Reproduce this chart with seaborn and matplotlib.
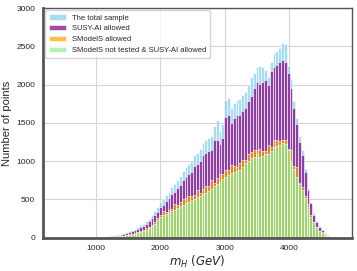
import pandas as pd
import matplotlib
matplotlib.use("Agg")
import matplotlib.pyplot as plt
import seaborn as sns

# bins of the m_H histogram (GeV)
bin_edges = list(range(880, 880 + 44 * 88, 44))

total = [0, 1, 2, 4, 6, 9, 12, 16, 22, 28,
         35, 44, 56, 70, 85, 100, 115, 135, 160, 185,
         215, 250, 300, 345, 400, 460, 500, 560, 600, 660,
         700, 760, 800, 870, 920, 960, 1000, 1080, 1110, 1160,
         1240, 1280, 1300, 1330, 1460, 1540, 1400, 1480, 1800, 1820,
         1700, 1760, 1800, 1810, 1870, 1900, 2000, 2100, 2150, 2230,
         2240, 2230, 2190, 2100, 2300, 2410, 2440, 2480, 2540, 2530,
         2250, 2080, 1780, 1560, 1330, 1150, 900, 650, 470, 320,
         220, 150, 100, 55, 25, 8, 3]

susy_ai = [0, 1, 2, 3, 5, 8, 11, 14, 19, 24,
           30, 38, 48, 60, 73, 85, 98, 114, 135, 157,
           182, 212, 255, 293, 340, 395, 430, 480, 515, 565,
           600, 650, 690, 750, 790, 830, 860, 940, 960, 1000,
           1080, 1110, 1130, 1150, 1270, 1280, 1230, 1300, 1580, 1600,
           1500, 1560, 1600, 1600, 1660, 1700, 1780, 1850, 1950, 2030,
           2010, 2030, 2060, 2000, 2180, 2230, 2260, 2290, 2320, 2300,
           2150, 1950, 1700, 1480, 1250, 1080, 860, 620, 450, 300,
           205, 140, 95, 50, 22, 7, 2]

smodels = [0, 0, 1, 2, 3, 5, 6, 8, 11, 14,
           18, 22, 28, 35, 42, 52, 60, 75, 88, 105,
           125, 145, 172, 210, 255, 300, 350, 335, 365, 375,
           435, 425, 460, 500, 515, 550, 550, 560, 620, 590,
           630, 680, 680, 750, 720, 780, 830, 830, 880, 890,
           950, 940, 920, 970, 1020, 1020, 1100, 1120, 1150, 1140,
           1160, 1130, 1130, 1210, 1190, 1270, 1270, 1260, 1280, 1280,
           1160, 1140, 940, 920, 720, 660, 540, 440, 295, 210,
           135, 90, 75, 33, 12, 3, 1]

not_tested = [0, 0, 1, 1, 2, 3, 4, 6, 8, 11,
              14, 18, 23, 29, 36, 44, 52, 62, 75, 90,
              105, 125, 150, 185, 225, 270, 290, 310, 325, 345,
              365, 385, 410, 430, 455, 470, 490, 510, 530, 550,
              570, 590, 610, 640, 670, 700, 730, 770, 790, 820,
              840, 860, 870, 890, 930, 980, 1000, 1040, 1060, 1100,
              1060, 1070, 1090, 1100, 1130, 1180, 1200, 1210, 1240, 1220,
              1140, 1000, 900, 790, 700, 620, 520, 400, 275, 200,
              135, 85, 55, 28, 10, 3, 1]

centers = [e + 22 for e in bin_edges[:-1]]

sns.set_style("whitegrid")
plt.rcParams["font.family"] = ["Liberation Sans", "DejaVu Sans"]

fig = plt.figure(figsize=(3.57, 2.71), dpi=100)
ax = fig.add_axes([0.12, 0.123, 0.866, 0.847])

layers = [
    (total, "skyblue", "The total sample"),
    (susy_ai, "purple", "SUSY-AI allowed"),
    (smodels, "orange", "SModelS allowed"),
    (not_tested, "lightgreen", "SModelS not tested & SUSY-AI allowed"),
]
for vals, col, lab in layers:
    df = pd.DataFrame({"mH": centers, "n": vals})
    sns.histplot(data=df, x="mH", weights="n", bins=bin_edges, color=col,
                 alpha=0.7, edgecolor="white", linewidth=0.4, label=lab, ax=ax)

ax.set_xlim(177, 4973)
ax.set_ylim(0, 3000)
ax.set_xticks([1000, 2000, 3000, 4000])
ax.set_yticks(range(0, 3001, 500))
ax.tick_params(labelsize=6, pad=2)
ax.set_xlabel("$m_H\\ (GeV)$", fontsize=8.5, labelpad=1)
ax.set_ylabel("Number of points", fontsize=8, labelpad=3)
ax.grid(color="#d5d5d5", linewidth=0.8)

for side, sp in ax.spines.items():
    sp.set_color("#555555")
    sp.set_linewidth(2 if side in ("left", "bottom") else 1)

ax.legend(loc="upper left", fontsize=5.5, frameon=True, borderpad=0.5,
          handlelength=2.2, labelspacing=0.45, borderaxespad=0.3)

fig.savefig("out.png", dpi=100)
